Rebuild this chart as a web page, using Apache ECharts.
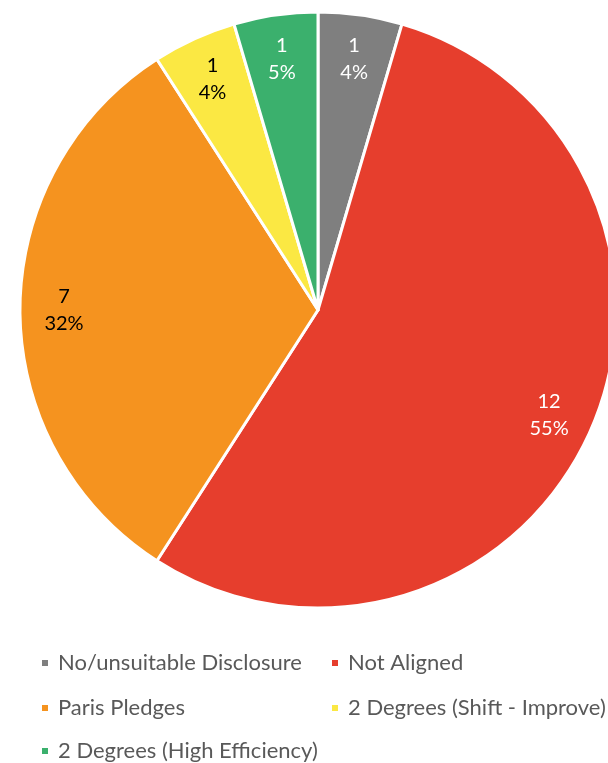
<!DOCTYPE html>
<html><head><meta charset="utf-8">
<script src="https://cdn.jsdelivr.net/npm/echarts@6/dist/echarts.min.js"></script>
<style>html,body{margin:0;padding:0;background:#fff}#c{width:608px;height:763px}</style>
</head><body><div id="c"></div>
<script>
const categories = ['No/unsuitable Disclosure','Not Aligned','Paris Pledges','2 Degrees (Shift - Improve)','2 Degrees (High Efficiency)'];
const values = [1, 12, 7, 1, 1];
const percentLabels = ['4%','55%','32%','4%','5%'];
const colors = ['#7f7f7f','#e63e2d','#f5931f','#fbe843','#3bb06d'];
const labelColors = ['#ffffff','#ffffff','#000000','#000000','#ffffff'];

const mainData = categories.map((n,i)=>({name:n, value:values[i], itemStyle:{color:colors[i]}}));
const labelData = categories.map((n,i)=>({name:n, value:values[i], itemStyle:{color:'rgba(0,0,0,0)'}, label:{color:labelColors[i]}}));

const font = 'Lato, "Open Sans", sans-serif';
// legend grid: two columns, three rows
const legendCols = [40, 330];
const legendRows = [652, 697, 740];
const legends = categories.map((n,i)=>({
  orient:'horizontal', left:legendCols[i%2], top:legendRows[Math.floor(i/2)], padding:0,
  itemWidth:8, itemHeight:8, icon:'rect',
  textStyle:{fontFamily:font, fontSize:22, color:'#595959', padding:[0,0,0,4]},
  data:[n]
}));

const chart = echarts.init(document.getElementById('c'), null, {renderer:'canvas'});
chart.setOption({
  animation:false,
  legend:legends,
  series:[
    {type:'pie', center:[318,310], radius:[0,298], startAngle:90, clockwise:true,
     itemStyle:{borderColor:'#fff', borderWidth:3}, label:{show:false}, labelLine:{show:false},
     emphasis:{disabled:true}, data:mainData},
    {type:'pie', center:[318,310], radius:[204,298], startAngle:90, clockwise:true, silent:true,
     legendHoverLink:false, emphasis:{disabled:true},
     label:{show:true, position:'inside', fontFamily:font, fontSize:20, lineHeight:27,
       formatter:p=>p.value+'\n'+percentLabels[p.dataIndex]},
     labelLine:{show:false}, data:labelData}
  ]
});
</script></body></html>
